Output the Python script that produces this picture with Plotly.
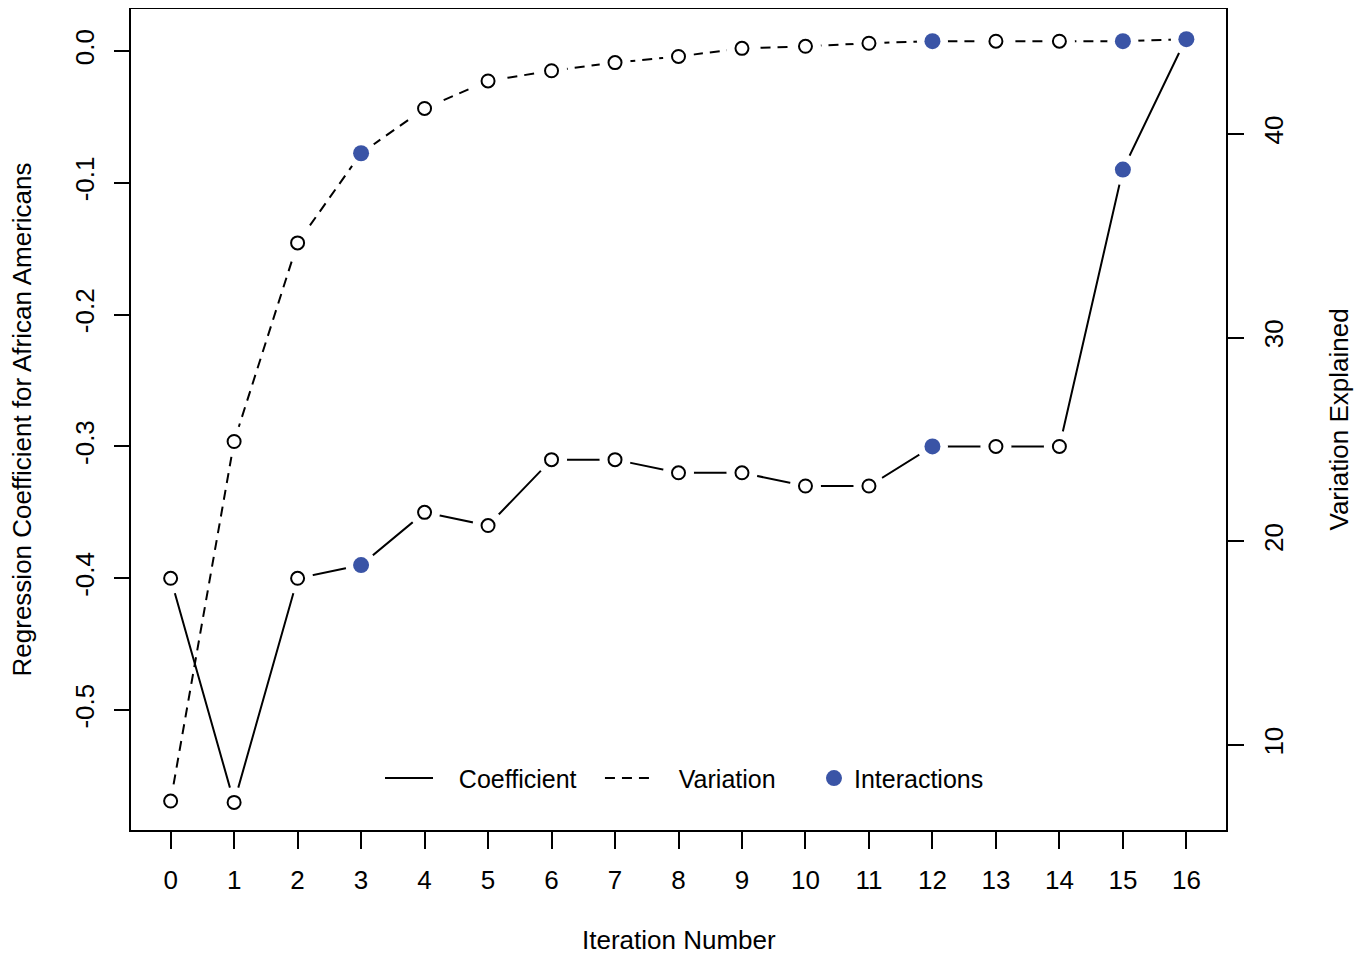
import plotly.graph_objects as go

iterations = list(range(17))
coefficient = [-0.40, -0.57, -0.40, -0.39, -0.35, -0.36, -0.31, -0.31, -0.32,
               -0.32, -0.33, -0.33, -0.30, -0.30, -0.30, -0.09, 0.01]
variation = [7.25, 24.9, 34.65, 39.05, 41.25, 42.6, 43.1, 43.5, 43.8,
             44.2, 44.3, 44.45, 44.55, 44.55, 44.55, 44.55, 44.65]
interaction_iters = [3, 12, 15, 16]

x_tick_labels = [str(i) for i in iterations]
left_ticks = [0.0, -0.1, -0.2, -0.3, -0.4, -0.5]
left_tick_labels = ["0.0", "-0.1", "-0.2", "-0.3", "-0.4", "-0.5"]
right_ticks = [10, 20, 30, 40]
right_tick_labels = ["10", "20", "30", "40"]

BLUE = "#3A54A6"
FONT = "Liberation Sans, Arial, sans-serif"
PAD = "\u00a0\u00a0\u00a0"

fig = go.Figure()

def add_series(y, axis, dash, name, legend):
    fig.add_trace(go.Scatter(x=iterations, y=y, yaxis=axis, mode="lines",
                             line=dict(color="black", width=2, dash=dash),
                             name=PAD + name, showlegend=True, legend=legend,
                             hoverinfo="skip"))
    # white halo to make gaps like R type="b"
    fig.add_trace(go.Scatter(x=iterations, y=y, yaxis=axis, mode="markers",
                             marker=dict(size=31, color="white", line=dict(width=0)),
                             showlegend=False, hoverinfo="skip"))
    open_x = [i for i in iterations if i not in interaction_iters]
    open_y = [y[i] for i in open_x]
    fig.add_trace(go.Scatter(x=open_x, y=open_y, yaxis=axis, mode="markers",
                             marker=dict(size=13, color="white",
                                         line=dict(width=2, color="black")),
                             showlegend=False))

add_series(coefficient, "y", "solid", "Coefficient", "legend")
add_series(variation, "y2", "10px,7px", "Variation", "legend2")

fig.add_trace(go.Scatter(x=interaction_iters, y=[coefficient[i] for i in interaction_iters],
                         yaxis="y", mode="markers",
                         marker=dict(size=16, color=BLUE, line=dict(width=0)),
                         name="Interactions", showlegend=True, legend="legend3"))
fig.add_trace(go.Scatter(x=interaction_iters, y=[variation[i] for i in interaction_iters],
                         yaxis="y2", mode="markers",
                         marker=dict(size=16, color=BLUE, line=dict(width=0)),
                         name="Interactions", showlegend=False))

tickfont = dict(family=FONT, size=26, color="black")
legfont = dict(family=FONT, size=25, color="black")

def leg(x, itemwidth):
    return dict(orientation="h", x=x, y=0.064, xanchor="left", yanchor="middle",
                bgcolor="rgba(0,0,0,0)", font=legfont, itemwidth=itemwidth)

fig.update_layout(
    width=1361, height=953,
    margin=dict(l=122, r=142, t=0, b=130),
    paper_bgcolor="white", plot_bgcolor="white",
    font=dict(family=FONT, color="black"),
    xaxis=dict(range=[-0.64, 16.64], tickmode="array", tickvals=iterations,
               ticktext=x_tick_labels, ticks="outside", ticklen=17, tickwidth=2,
               tickcolor="black", showgrid=False, zeroline=False, showline=False,
               tickfont=tickfont, ticklabelstandoff=9),
    yaxis=dict(range=[-0.5917, 0.0326], tickmode="array", tickvals=left_ticks,
               ticktext=left_tick_labels, ticks="outside", ticklen=15, tickwidth=2,
               tickcolor="black", showgrid=False, zeroline=False, showline=False,
               tickangle=-90, tickfont=tickfont, ticklabelstandoff=10),
    yaxis2=dict(range=[5.78, 46.18], overlaying="y", side="right", tickmode="array",
                tickvals=right_ticks, ticktext=right_tick_labels, ticks="outside",
                ticklen=16, tickwidth=2, tickcolor="black", showgrid=False,
                zeroline=False, showline=False, tickangle=-90, tickfont=tickfont,
                ticklabelstandoff=8),
    legend=leg(0.2279, 48),
    legend2=leg(0.4284, 48),
    legend3=leg(0.6235, 30),
    showlegend=True,
    shapes=[dict(type="rect", xref="paper", yref="paper", x0=0, y0=0, x1=1, y1=1,
                 line=dict(color="black", width=2), layer="above")],
    annotations=[
        dict(text="Iteration Number", xref="paper", yref="paper", x=0.5, y=-0.1325,
             xanchor="center", yanchor="middle", showarrow=False,
             font=dict(family=FONT, size=26, color="black")),
        dict(text="Regression Coefficient for African Americans", xref="paper",
             yref="paper", x=-0.0985, y=0.5, xanchor="center", yanchor="middle",
             textangle=-90, showarrow=False, font=dict(family=FONT, size=26, color="black")),
        dict(text="Variation Explained", xref="paper", yref="paper", x=1.1012, y=0.5,
             xanchor="center", yanchor="middle", textangle=-90, showarrow=False,
             font=dict(family=FONT, size=26, color="black")),
    ],
)

fig.write_html("out.html")
